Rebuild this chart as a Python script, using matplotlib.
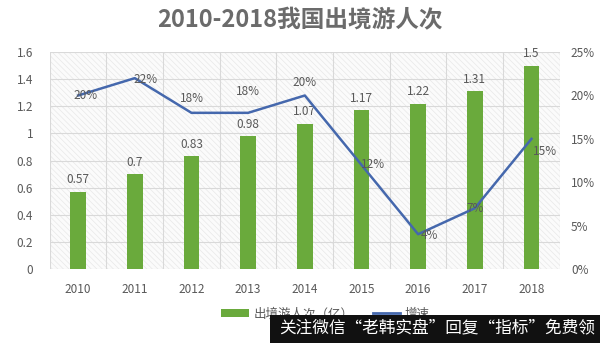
import matplotlib.pyplot as plt
from matplotlib.patches import Rectangle
from matplotlib.lines import Line2D
from matplotlib.patches import Patch
from matplotlib.ticker import FuncFormatter
import numpy as np

plt.rcParams['font.family'] = ['Noto Sans CJK SC', 'DejaVu Sans']
plt.rcParams['hatch.linewidth'] = 0.5

years = ['2010', '2011', '2012', '2013', '2014', '2015', '2016', '2017', '2018']
travelers = [0.57, 0.7, 0.83, 0.98, 1.07, 1.17, 1.22, 1.31, 1.5]
growth = [20, 22, 18, 18, 20, 12, 4, 7, 15]
bar_labels = ['0.57', '0.7', '0.83', '0.98', '1.07', '1.17', '1.22', '1.31', '1.5']

green = '#6aaa3c'
blue = '#4568ad'
txt = '#595959'

fig = plt.figure(figsize=(6, 3.43), dpi=100)
ax = fig.add_axes([0.083, 0.216, 0.85, 0.632])
x = np.arange(len(years))

# hatched background
ax.add_patch(Rectangle((0, 0), 1, 1, transform=ax.transAxes, facecolor='#fbfbfb',
                       hatch='\\\\\\\\\\\\', edgecolor='#e8e8e8', linewidth=0, zorder=0))

ax.bar(x, travelers, width=0.28, color=green, zorder=3)
for xi, v, lab in zip(x, travelers, bar_labels):
    ax.annotate(lab, (xi, v), xytext=(0, 4), textcoords='offset points',
                ha='center', va='bottom', fontsize=8.5, color=txt, zorder=6)

ax.set_xlim(-0.5, len(years) - 0.5)
ax.set_ylim(0, 1.6)
ax.set_yticks(np.arange(0, 1.61, 0.2))
ax.yaxis.set_major_formatter(FuncFormatter(lambda v, p: '0' if v == 0 else ('1' if abs(v - 1) < 1e-9 else f'{v:.1f}')))
ax.set_xticks(x)
ax.set_xticklabels(years)
ax.set_xticks(np.arange(-0.5, len(years)), minor=True)
ax.grid(axis='y', color='#d9d9d9', linewidth=0.8, zorder=1)
ax.grid(axis='x', which='minor', color='#d9d9d9', linewidth=0.8, zorder=1)
ax.tick_params(axis='both', which='both', length=0, labelsize=8.5, labelcolor=txt)
ax.tick_params(axis='x', pad=10)
ax.tick_params(axis='y', pad=12)
for s in ax.spines.values():
    s.set_visible(False)

ax2 = ax.twinx()
ax2.plot(x, growth, color=blue, linewidth=1.8, zorder=4)
ax2.set_ylim(0, 25)
ax2.set_yticks(np.arange(0, 26, 5))
ax2.yaxis.set_major_formatter(FuncFormatter(lambda v, p: f'{int(v)}%'))
ax2.tick_params(axis='y', length=0, labelsize=8.5, labelcolor=txt, pad=8)
for s in ax2.spines.values():
    s.set_visible(False)

# growth labels: offsets in points
offsets = [(5, 0), (8, -1), (0, 10), (0, 15), (0, 9), (8, 0), (8, -1), (0, 0), (10, -9)]
for xi, g, (dx, dy) in zip(x, growth, offsets):
    ax2.annotate(f'{g}%', (xi, g), xytext=(dx, dy), textcoords='offset points',
                 ha='center', va='center', fontsize=8.5, color=txt, zorder=6)

fig.text(0.5, 0.94, '2010-2018我国出境游人次', ha='center', va='center',
         fontsize=17, fontweight='bold', color='#6b6b6b')

handles = [Patch(facecolor=green, edgecolor='none'),
           Line2D([], [], color=blue, linewidth=2)]
fig.legend(handles, ['出境游人次（亿）', '增速'], loc='center left', bbox_to_anchor=(0.35, 0.085),
           ncol=2, frameon=False, fontsize=9, labelcolor=txt, handlelength=2.2,
           handleheight=0.6, handletextpad=0.4, columnspacing=1.5)

# watermark banner
fig.patches.append(Rectangle((0.45, 0), 0.55, 0.082, transform=fig.transFigure,
                             facecolor='#111111', edgecolor='none', zorder=10))
fig.text(0.465, 0.04, '关注微信“老韩实盘”回复“指标”免费领', ha='left', va='center',
         fontsize=12, color='white', zorder=11)

fig.savefig('out.png', dpi=100)
